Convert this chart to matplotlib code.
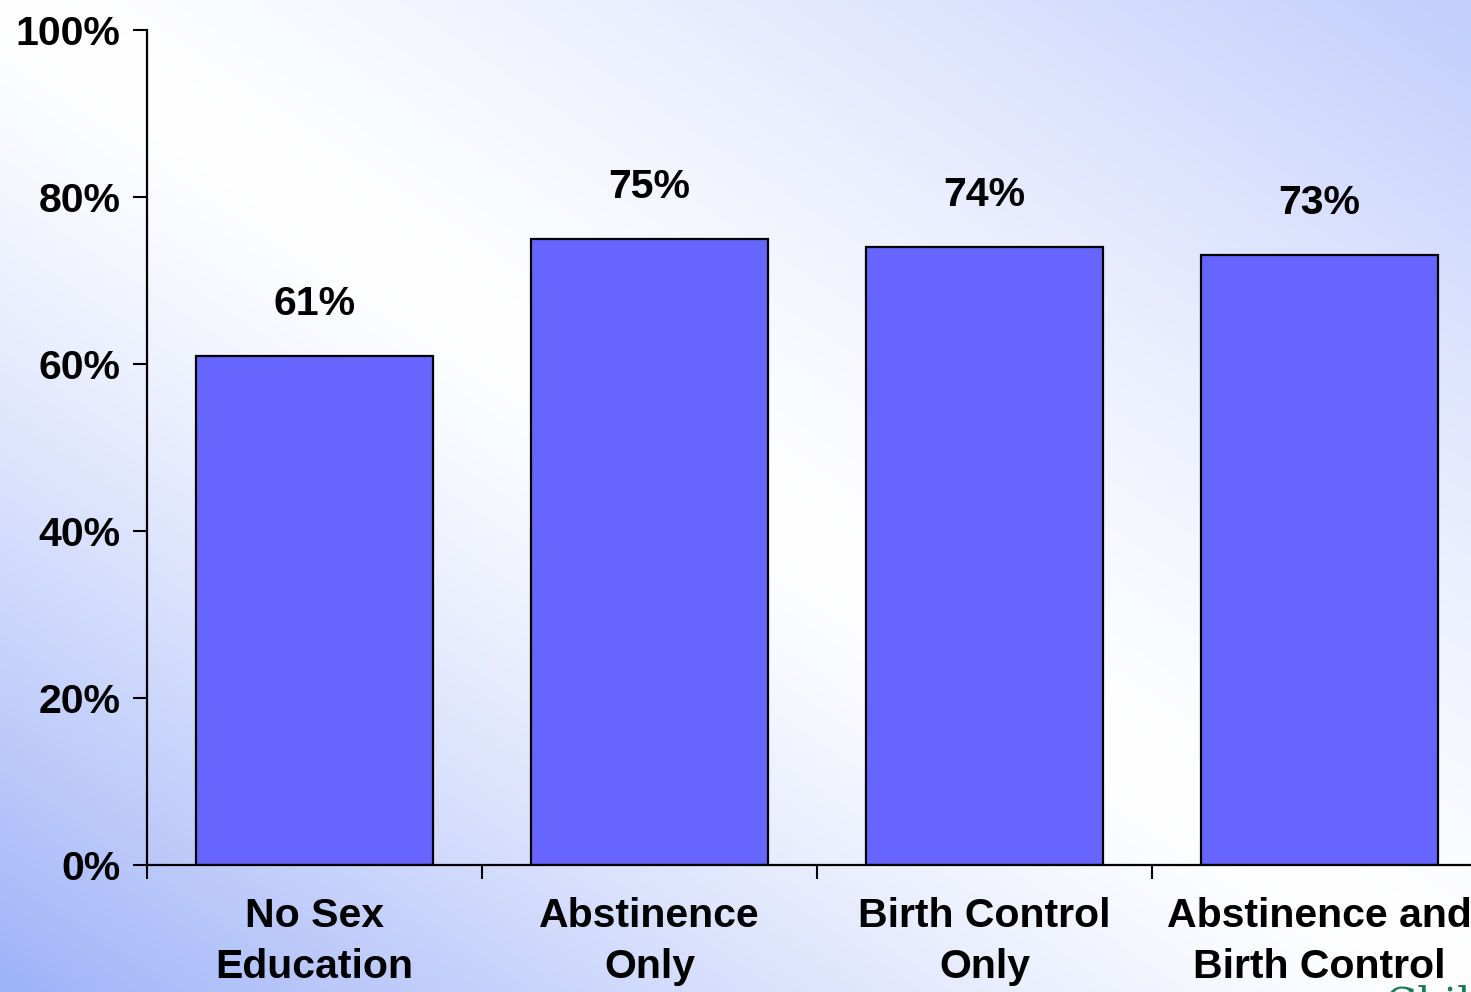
import numpy as np
import matplotlib
matplotlib.use("Agg")
import matplotlib.pyplot as plt

categories = ["No Sex\nEducation", "Abstinence\nOnly", "Birth Control\nOnly", "Abstinence and\nBirth Control"]
values = [61, 75, 74, 73]
yticks = [0, 20, 40, 60, 80, 100]
ytick_labels = ["0%", "20%", "40%", "60%", "80%", "100%"]

plt.rcParams["font.family"] = ["Liberation Sans", "DejaVu Sans"]
plt.rcParams["font.weight"] = "bold"

W, H = 1471, 992
fig = plt.figure(figsize=(W / 100, H / 100), dpi=100)

# diagonal background gradient: white along the top-left/bottom-right diagonal
bg = fig.add_axes([0, 0, 1, 1], zorder=0)
yy, xx = np.mgrid[0:1:200j, 0:1:300j]
t = yy - xx
a = np.abs(t) ** 1.3
low = np.array([158, 178, 248]) / 255   # bottom-left
high = np.array([194, 206, 252]) / 255  # top-right
blue = np.where(t[..., None] > 0, low, high)
img = (1 - a[..., None]) * np.array([1.0, 1.0, 1.0]) + a[..., None] * blue
bg.imshow(img, aspect="auto", extent=[0, 1, 0, 1], origin="upper", interpolation="bilinear")
bg.axis("off")

ax = fig.add_axes([147 / W, 127 / H, 1340 / W, 835 / H], zorder=1)
ax.patch.set_alpha(0)

x = np.arange(len(values))
ax.bar(x, values, width=0.71, color="#6666FF", edgecolor="black", linewidth=1.6, zorder=2)

for i, v in enumerate(values):
    ax.annotate(f"{v}%", (x[i], v), xytext=(0, 29.5), textcoords="offset points",
                ha="center", va="baseline", fontsize=29.5, fontweight="bold")

ax.set_xlim(-0.5, 3.5)
ax.set_ylim(0, 100)
ax.set_yticks(yticks)
ax.set_yticklabels(ytick_labels, fontsize=29.5, fontweight="bold")
ax.set_xticks(x)
ax.set_xticklabels(categories, fontsize=29.5, fontweight="bold", linespacing=1.42)
ax.set_xticks(np.arange(-0.5, 3.0, 1.0), minor=True)

ax.tick_params(axis="y", length=10, width=1.5, direction="out", pad=9)
ax.tick_params(axis="x", which="major", length=0, pad=23)
ax.tick_params(axis="x", which="minor", length=10, width=1.5, direction="out")

for s in ["top", "right"]:
    ax.spines[s].set_visible(False)
for s in ["left", "bottom"]:
    ax.spines[s].set_linewidth(1.6)

# partially visible logo text at the bottom edge (cut off in the original too)
fig.text(1385 / W, 1 - 984 / H, "Child Trends", color="#1b7d55", family="serif",
         fontsize=30, fontweight="normal", ha="left", va="top")

fig.savefig("out.png", dpi=100)
